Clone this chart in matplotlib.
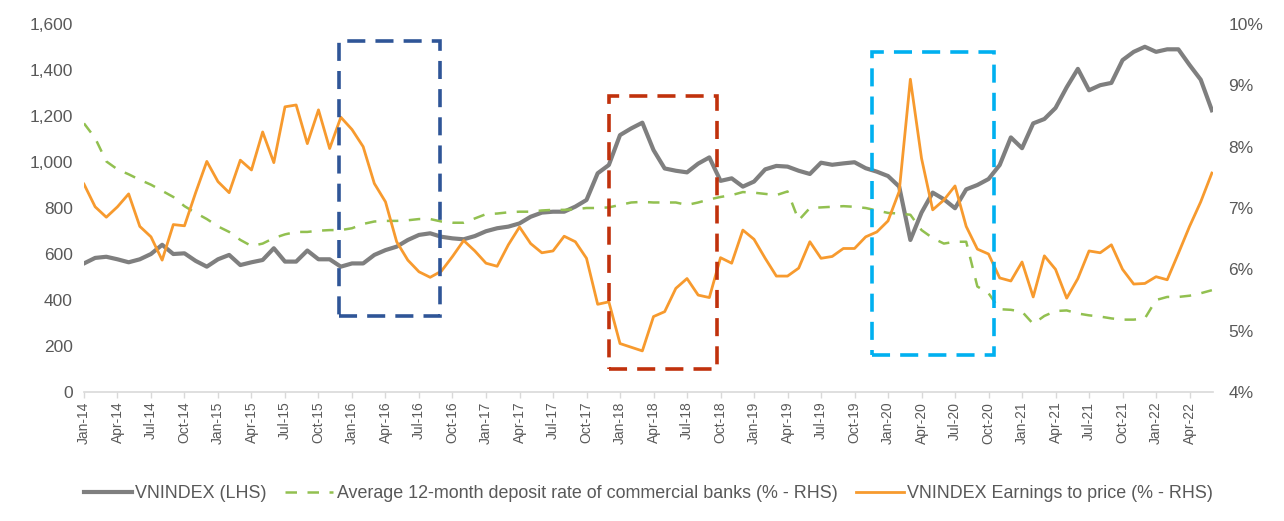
import matplotlib
matplotlib.use("Agg")
import matplotlib.pyplot as plt
from matplotlib.patches import Rectangle
from matplotlib.ticker import FuncFormatter
import pandas as pd

# monthly data, Jan-14 .. Jun-22
months = pd.date_range("2014-01-01", periods=102, freq="MS")

vnindex = [
    559, 583, 588, 577, 564, 577, 600, 640, 600, 603, 570, 545, 577, 596, 552, 564, 574,
    625, 567, 567, 615, 577, 577, 545, 559, 559, 596, 617, 632, 661, 683, 690, 675, 668,
    664, 678, 699, 712, 719, 733, 762, 780, 784, 784, 806, 835, 951, 987, 1117, 1146, 1171,
    1052, 972, 962, 955, 993, 1020, 918, 929, 893, 915, 968, 983, 980, 962, 948, 997, 988,
    994, 999, 973, 958, 939, 893, 661, 780, 867, 838, 799, 881, 900, 926, 987, 1107, 1060,
    1168, 1187, 1235, 1325, 1405, 1312, 1334, 1344, 1443, 1479, 1501, 1479, 1490, 1490, 1422, 1358, 1225,
]

deposit_rate = [
    8.38, 8.14, 7.76, 7.63, 7.55, 7.46, 7.38, 7.28, 7.18, 7.03, 6.92, 6.82, 6.70, 6.61, 6.48, 6.38, 6.42,
    6.51, 6.57, 6.61, 6.61, 6.63, 6.64, 6.64, 6.67, 6.74, 6.78, 6.79, 6.79, 6.80, 6.82, 6.82, 6.78, 6.76,
    6.76, 6.83, 6.90, 6.91, 6.93, 6.94, 6.94, 6.96, 6.97, 6.97, 6.98, 7.00, 7.00, 7.01, 7.05, 7.09, 7.10,
    7.09, 7.09, 7.09, 7.05, 7.09, 7.14, 7.18, 7.21, 7.26, 7.25, 7.23, 7.21, 7.27, 6.80, 7.00, 7.01, 7.02,
    7.03, 7.02, 7.00, 6.96, 6.92, 6.91, 6.89, 6.64, 6.51, 6.42, 6.45, 6.45, 5.72, 5.61, 5.35, 5.34, 5.31,
    5.11, 5.24, 5.32, 5.33, 5.28, 5.25, 5.23, 5.20, 5.18, 5.18, 5.20, 5.50, 5.55, 5.55, 5.57, 5.61, 5.66,
]

earnings_yield = [
    7.39, 7.02, 6.85, 7.02, 7.23, 6.70, 6.53, 6.15, 6.73, 6.71, 7.25, 7.76, 7.43, 7.25, 7.78, 7.62, 8.24,
    7.74, 8.65, 8.68, 8.05, 8.60, 7.97, 8.48, 8.28, 8.00, 7.40, 7.10, 6.45, 6.15, 5.96, 5.87, 5.97, 6.21,
    6.47, 6.30, 6.10, 6.05, 6.40, 6.69, 6.42, 6.27, 6.30, 6.54, 6.45, 6.18, 5.43, 5.47, 4.79, 4.73, 4.67,
    5.23, 5.31, 5.69, 5.85, 5.58, 5.54, 6.19, 6.10, 6.64, 6.49, 6.18, 5.89, 5.89, 6.02, 6.45, 6.18, 6.21,
    6.34, 6.34, 6.53, 6.61, 6.79, 7.27, 9.10, 7.81, 6.97, 7.13, 7.36, 6.70, 6.33, 6.25, 5.86, 5.81, 6.12,
    5.55, 6.22, 6.00, 5.53, 5.85, 6.30, 6.27, 6.40, 6.00, 5.76, 5.77, 5.88, 5.83, 6.26, 6.70, 7.10, 7.57,
]

# highlighted periods: (start, end in months since Jan-14, low, high on LHS scale, colour)
boxes = [
    (22.8, 31.9, 330, 1526, "#2F5597"),
    (47.0, 56.7, 100, 1288, "#C0310C"),
    (70.6, 81.5, 161, 1480, "#00B0F0"),
]

plt.rcParams["font.family"] = ["Liberation Sans", "DejaVu Sans"]
text_col = "#595959"
axis_col = "#D9D9D9"

x = list(range(len(months)))
labels = [d.strftime("%b-%y") for d in months]

fig = plt.figure(figsize=(12.84, 5.21), dpi=100)
ax = fig.add_axes([0.0654, 0.2476, 0.8793, 0.7063])
ax2 = ax.twinx()

l1, = ax.plot(x, vnindex, color="#7F7F7F", lw=3.0, solid_joinstyle="round",
              label="VNINDEX (LHS)")
l2, = ax2.plot(x, deposit_rate, color="#92C050", lw=1.8, linestyle=(0, (4.6, 4.2)),
               label="Average 12-month deposit rate of commercial banks (% - RHS)")
l3, = ax2.plot(x, earnings_yield, color="#F79A2E", lw=2.0, solid_joinstyle="round",
               label="VNINDEX Earnings to price (% - RHS)")

# dashed boxes in LHS data units, drawn above the lines
for x0, x1, lo, hi, col in boxes:
    ax2.add_patch(Rectangle((x0, lo), x1 - x0, hi - lo, transform=ax.transData,
                            fill=False, edgecolor=col, lw=2.6,
                            linestyle=(0, (5, 2.8)), zorder=5))

ax.set_xlim(0, 101.1)
ax.set_ylim(0, 1600)
ax.set_yticks(range(0, 1601, 200))
ax.yaxis.set_major_formatter(FuncFormatter(lambda v, p: f"{v:,.0f}"))
ax2.set_ylim(4, 10)
ax2.set_yticks(range(4, 11))
ax2.yaxis.set_major_formatter(FuncFormatter(lambda v, p: f"{v:.0f}%"))

ax.set_xticks(x[::3])
ax.set_xticklabels(labels[::3], rotation=90, fontsize=10, color=text_col)

for a in (ax, ax2):
    for s in a.spines.values():
        s.set_visible(False)
ax.spines["bottom"].set_visible(True)
ax.spines["bottom"].set_color(axis_col)
ax.spines["bottom"].set_linewidth(1.2)

ax.tick_params(axis="x", length=4, color=axis_col, width=1, pad=3)
ax.tick_params(axis="y", length=0, labelsize=12.5, labelcolor=text_col, pad=8)
ax2.tick_params(axis="y", length=0, labelsize=12.5, labelcolor=text_col, pad=11)

fig.legend(handles=[l1, l2, l3], loc="center", bbox_to_anchor=(0.505, 0.052), ncol=3,
           frameon=False, fontsize=12.9, labelcolor=text_col, handlelength=2.7,
           handletextpad=0.2, columnspacing=1.0)

fig.savefig("out.png", dpi=100, facecolor="white")
